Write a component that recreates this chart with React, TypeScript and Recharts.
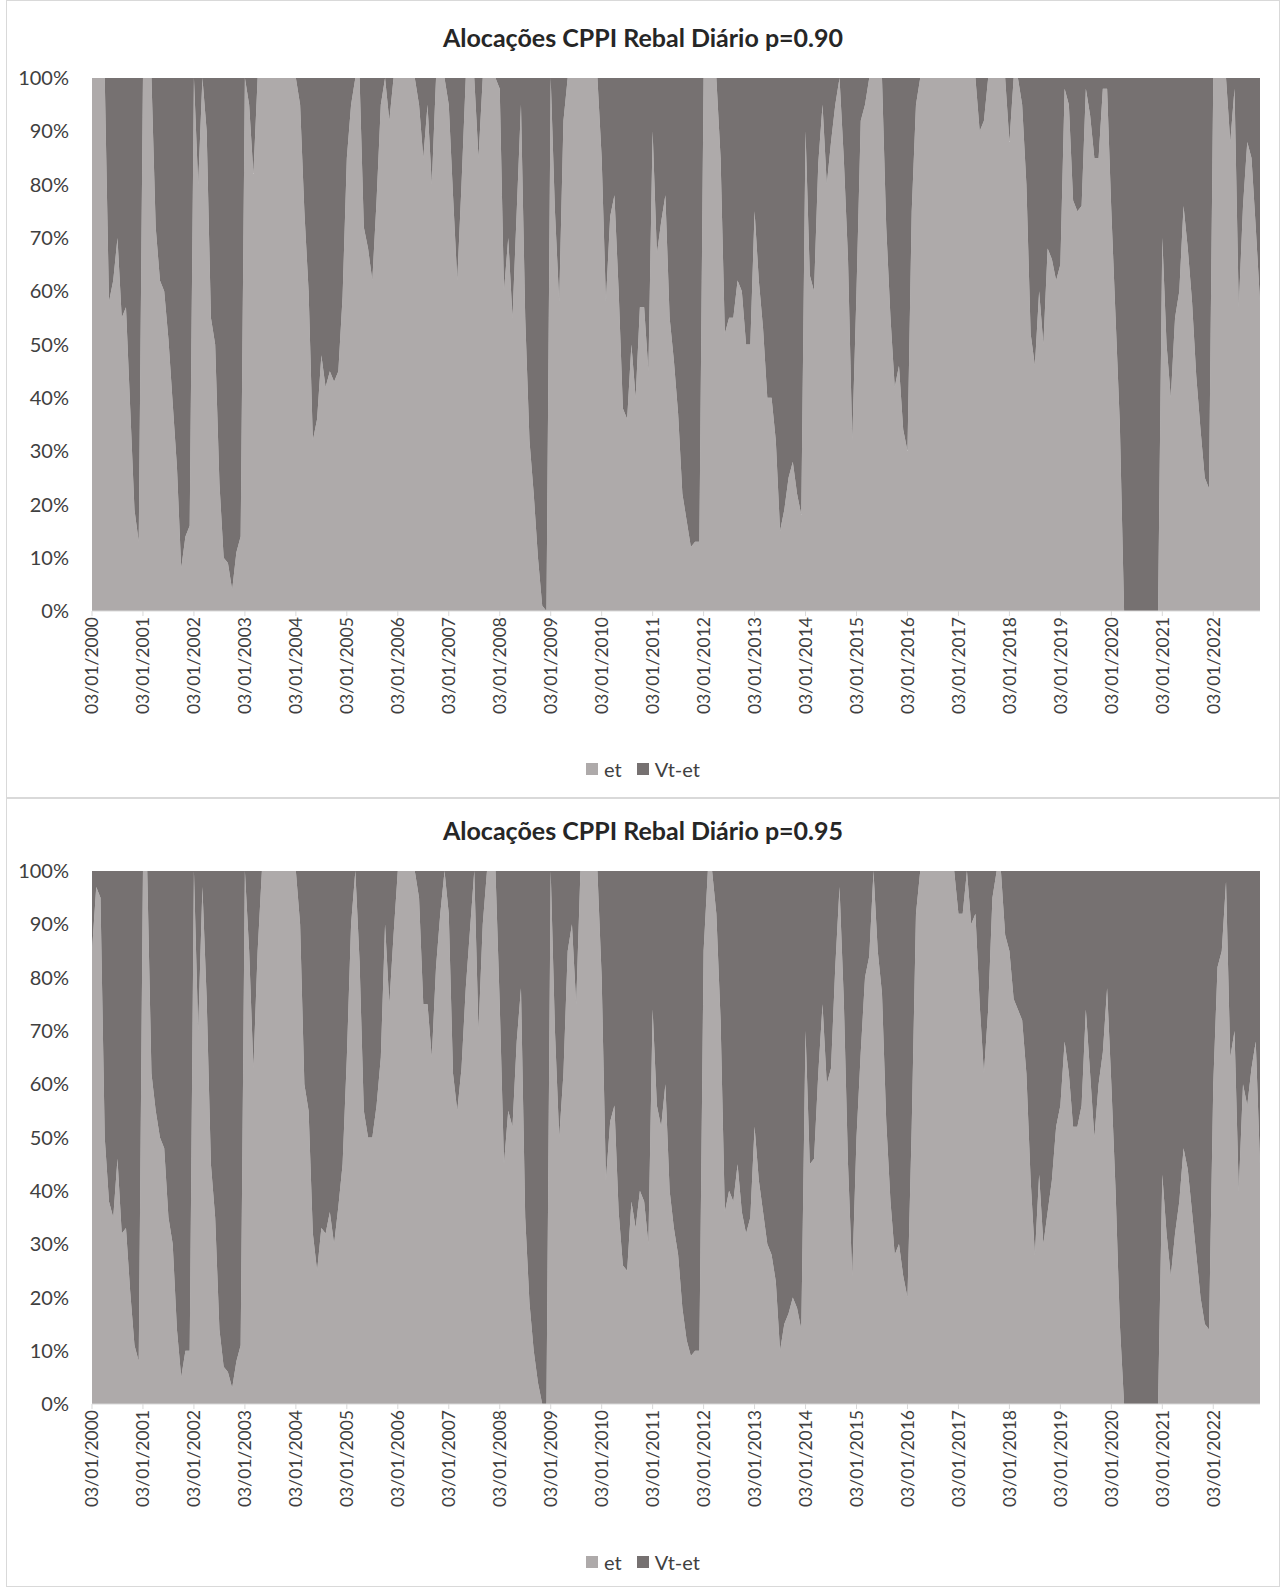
import { AreaChart, Area, XAxis, YAxis } from 'recharts';

// one value per month, index 0 = Jan 2000 ... 275 = Dec 2022 (share of et, %)
const tickMonths = [0, 12, 24, 36, 48, 60, 72, 84, 96, 108, 120, 132, 144, 156, 168, 180, 192, 204, 216, 228, 240, 252, 264];
const tickLabels = [
  '03/01/2000', '03/01/2001', '03/01/2002', '03/01/2003', '03/01/2004', '03/01/2005',
  '03/01/2006', '03/01/2007', '03/01/2008', '03/01/2009', '03/01/2010', '03/01/2011',
  '03/01/2012', '03/01/2013', '03/01/2014', '03/01/2015', '03/01/2016', '03/01/2017',
  '03/01/2018', '03/01/2019', '03/01/2020', '03/01/2021', '03/01/2022',
];
const yTicks = [0, 10, 20, 30, 40, 50, 60, 70, 80, 90, 100];

const etP90 = [
  100, 100, 100, 100, 58, 62, 70, 55, 57, 38, 19, 13,
  100, 100, 100, 72, 62, 60, 51, 39, 27, 8, 14, 16,
  100, 80, 100, 90, 55, 50, 24, 10, 9, 4, 11, 14,
  100, 95, 82, 100, 100, 100, 100, 100, 100, 100, 100, 100,
  100, 95, 75, 60, 32, 36, 48, 42, 45, 43, 45, 59,
  85, 95, 100, 100, 72, 68, 62, 77, 95, 100, 92, 100,
  100, 100, 100, 100, 100, 95, 85, 95, 80, 100, 100, 100,
  95, 78, 62, 80, 100, 100, 100, 85, 100, 100, 100, 100,
  98, 60, 70, 55, 75, 95, 55, 32, 22, 10, 1, 0,
  100, 75, 58, 92, 100, 100, 100, 100, 100, 100, 100, 100,
  85, 58, 74, 78, 60, 38, 36, 50, 40, 57, 57, 45,
  90, 67, 73, 78, 55, 47, 37, 22, 17, 12, 13, 13,
  100, 100, 100, 100, 85, 52, 55, 55, 62, 60, 50, 50,
  75, 62, 53, 40, 40, 32, 15, 19, 25, 28, 22, 18,
  90, 63, 60, 84, 95, 80, 88, 95, 100, 85, 66, 32,
  60, 92, 95, 100, 100, 100, 100, 72, 55, 42, 46, 34,
  30, 75, 95, 100, 100, 100, 100, 100, 100, 100, 100, 100,
  100, 100, 100, 100, 100, 90, 92, 100, 100, 100, 100, 100,
  88, 100, 100, 95, 80, 52, 46, 60, 50, 68, 66, 62,
  65, 98, 95, 77, 75, 76, 98, 93, 85, 85, 98, 98,
  75, 55, 35, 0, 0, 0, 0, 0, 0, 0, 0, 0,
  70, 50, 40, 55, 60, 76, 68, 58, 44, 34, 25, 23,
  100, 100, 100, 100, 88, 98, 57, 76, 88, 85, 72, 58,
];

const etP95 = [
  85, 97, 95, 50, 38, 35, 46, 32, 33, 21, 11, 8,
  100, 100, 62, 55, 50, 48, 35, 30, 14, 5, 10, 10,
  100, 70, 97, 76, 45, 35, 14, 7, 6, 3, 8, 11,
  100, 85, 63, 85, 100, 100, 100, 100, 100, 100, 100, 100,
  100, 90, 60, 55, 32, 25, 33, 32, 36, 30, 37, 45,
  65, 90, 100, 83, 55, 50, 50, 56, 65, 90, 75, 88,
  100, 100, 100, 100, 100, 95, 75, 75, 65, 82, 92, 100,
  92, 62, 55, 63, 78, 89, 100, 70, 90, 100, 100, 100,
  75, 45, 55, 52, 68, 78, 35, 19, 10, 4, 0, 0,
  100, 70, 50, 62, 85, 90, 75, 100, 100, 100, 100, 100,
  80, 42, 53, 56, 36, 26, 25, 38, 33, 40, 38, 30,
  74, 56, 52, 60, 40, 33, 28, 18, 12, 9, 10, 10,
  85, 100, 100, 92, 72, 36, 40, 38, 45, 36, 32, 35,
  52, 42, 36, 30, 28, 23, 10, 15, 17, 20, 18, 14,
  70, 45, 46, 62, 75, 60, 63, 82, 97, 76, 45, 24,
  50, 66, 80, 84, 100, 85, 77, 53, 38, 28, 30, 24,
  20, 52, 92, 100, 100, 100, 100, 100, 100, 100, 100, 100,
  92, 92, 100, 90, 92, 75, 62, 74, 95, 100, 100, 88,
  85, 76, 74, 72, 62, 42, 28, 43, 30, 36, 42, 52,
  56, 68, 62, 52, 52, 56, 74, 62, 50, 60, 66, 78,
  60, 40, 15, 0, 0, 0, 0, 0, 0, 0, 0, 0,
  43, 32, 24, 32, 38, 48, 44, 36, 28, 20, 15, 14,
  60, 82, 85, 98, 65, 70, 40, 60, 56, 63, 68, 45,
];

const LIGHT = '#AEAAAA';
const DARK = '#767171';
const TEXT = '#404040';
const FONT = 'Lato, "Open Sans", sans-serif';
const BOX_W = 1274;

const YearTick = (props: any) => {
  const { x, y, payload } = props;
  const idx = tickMonths.indexOf(payload.value);
  return (
    <text
      x={x}
      y={y}
      transform={`rotate(-90 ${x} ${y})`}
      textAnchor="end"
      dy="0.36em"
      fontSize={17.5}
      fill={TEXT}
    >
      {tickLabels[idx]}
    </text>
  );
};

type PanelProps = { title: string; series: number[]; top: number; height: number; shift: number };

const Panel = ({ title, series, top, height, shift }: PanelProps) => {
  const rows = series.map((et, m) => ({ m, et, vt: 100 - et }));
  return (
    <div
      style={{
        position: 'absolute',
        left: 6,
        top,
        width: BOX_W,
        height,
        border: '1px solid #d9d9d9',
        boxSizing: 'border-box',
        background: '#fff',
      }}
    >
      <div
        style={{
          position: 'absolute',
          left: 0,
          right: 0,
          top: 21 + shift,
          lineHeight: '30px',
          textAlign: 'center',
          fontWeight: 700,
          fontSize: 25,
          color: '#262626',
        }}
      >
        {title}
      </div>
      <div style={{ position: 'absolute', left: 0, top: shift }}>
        <AreaChart
          width={BOX_W - 2}
          height={740}
          data={rows}
          margin={{ top: 77, right: 19, left: 23, bottom: 10 }}
        >
          <XAxis
            dataKey="m"
            type="number"
            domain={[0, 275]}
            ticks={tickMonths}
            interval={0}
            height={120}
            tick={<YearTick />}
            tickSize={5}
            tickMargin={1}
            axisLine={{ stroke: '#d9d9d9' }}
            tickLine={{ stroke: '#d9d9d9' }}
          />
          <YAxis
            domain={[0, 100]}
            ticks={yTicks}
            width={62}
            axisLine={false}
            tickLine={false}
            tickSize={0}
            tickMargin={23}
            tickFormatter={(v) => `${v}%`}
            tick={{ fontSize: 20, fill: TEXT }}
          />
          <Area
            type="linear"
            dataKey="et"
            name="et"
            stackId="a"
            stroke="none"
            fill={LIGHT}
            fillOpacity={1}
            isAnimationActive={false}
          />
          <Area
            type="linear"
            dataKey="vt"
            name="Vt-et"
            stackId="a"
            stroke="none"
            fill={DARK}
            fillOpacity={1}
            isAnimationActive={false}
          />
        </AreaChart>
      </div>
      <div
        style={{
          position: 'absolute',
          left: 0,
          right: 0,
          top: 756 + shift,
          height: 24,
          display: 'flex',
          justifyContent: 'center',
          alignItems: 'center',
          fontSize: 20,
          color: TEXT,
        }}
      >
        <span style={{ width: 12, height: 12, background: LIGHT, marginRight: 6 }} />
        <span style={{ marginRight: 15 }}>et</span>
        <span style={{ width: 12, height: 12, background: DARK, marginRight: 6 }} />
        <span>Vt-et</span>
      </div>
    </div>
  );
};

export default function App() {
  return (
    <div
      style={{
        position: 'absolute',
        left: 0,
        top: 0,
        width: 1286,
        height: 1587,
        background: '#fff',
        fontFamily: FONT,
      }}
    >
      <Panel title="Alocações CPPI Rebal Diário p=0.90" series={etP90} top={0} height={798} shift={0} />
      <Panel title="Alocações CPPI Rebal Diário p=0.95" series={etP95} top={798} height={789} shift={-5} />
    </div>
  );
}
